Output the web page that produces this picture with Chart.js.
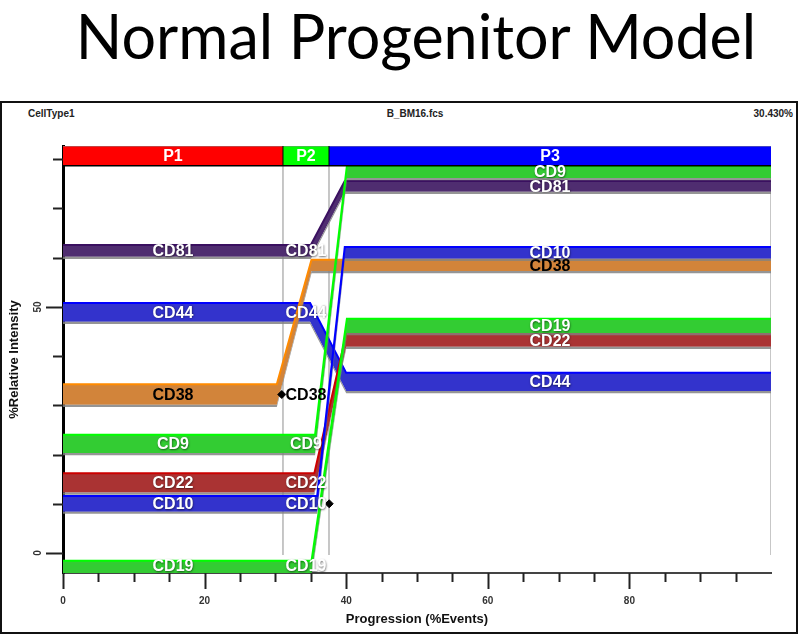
<!DOCTYPE html>
<html>
<head>
<meta charset="utf-8">
<title>Normal Progenitor Model</title>
<script src="https://cdn.jsdelivr.net/npm/chart.js@4.4.1/dist/chart.umd.min.js"></script>
<style>
  html, body { margin: 0; padding: 0; background: #fff; }
  #page { position: relative; width: 800px; height: 635px; overflow: hidden; }
  #title { position: absolute; left: 16px; top: 0; width: 800px; text-align: center;
           font-family: Lato, "Open Sans", sans-serif; font-size: 61px; line-height: 72px; color: #000; }
  #frame { position: absolute; left: 0; top: 101px; width: 794px; height: 529px; border: 2px solid #111; }
  .hdr { position: absolute; top: 108px; font: bold 10px "Liberation Sans", Arial, sans-serif; color: #222; }
  #chart { position: absolute; left: 0; top: 0; }
</style>
</head>
<body>
<div id="page">
  <div id="title">Normal Progenitor Model</div>
  <div id="frame"></div>
  <span class="hdr" style="left:28px">CellType1</span>
  <span class="hdr" style="left:365px;width:100px;text-align:center">B_BM16.fcs</span>
  <span class="hdr" style="right:7px">30.430%</span>
  <canvas id="chart" width="800" height="635"></canvas>
</div>
<script>
// фазы прогрессии
const phaseNames = ['P1', 'P2', 'P3'];
const phaseStart = [0, 31.07, 37.57];
const phaseEnd = [31.07, 37.57, 100];

// маркеры: границы полос до и после перехода
const markerNames = ['CD81', 'CD44', 'CD38', 'CD9', 'CD22', 'CD10', 'CD19'];
const riseStart   = [35.0, 34.9, 30.2, 35.6, 35.5, 35.9, 35.1];
const riseEnd     = [39.8, 40.0, 35.1, 40.1, 40.0, 39.8, 40.1];
const upperBefore = [62.6, 50.8, 34.3, 24.0, 16.2, 11.6, -1.6];
const lowerBefore = [60.2, 47.0, 30.1, 20.3, 12.3, 8.4, -4.5];
const upperAfter  = [75.6, 36.6, 59.6, 78.7, 44.5, 62.2, 47.6];
const lowerAfter  = [73.4, 32.9, 57.3, 76.2, 41.9, 59.8, 44.7];

// ромбики-метки
const diamondX = [30.9, 37.6];
const diamondY = [32.2, 10.0];

// оси
const xTickValues = [0, 5, 10, 15, 20, 25, 30, 35, 40, 45, 50, 55, 60, 65, 70, 75, 80, 85, 90, 95];
const yTickValues = [0, 10, 20, 30, 40, 50, 60, 70, 80];
const yMin = -4.07, yMax = 82.7;
const barLow = 78.7, barHigh = 82.7;   // полоса фаз
const guideBottom = -0.4;

// стили
const FONT = '"Liberation Sans", Arial, sans-serif';
const PHASE_COLORS = ['#ff0000', '#00ff00', '#0000ff'];
const BAND_STYLE = {
    CD81: { body: '#4f2d70', edge: '#3a1060', text: '#fff' },
    CD44: { body: '#3333cc', edge: '#0000ff', text: '#fff' },
    CD38: { body: '#d2843a', edge: '#ff8a00', text: '#000' },
    CD9:  { body: '#33cc33', edge: '#00ff00', text: '#fff' },
    CD22: { body: '#aa3333', edge: '#cc0000', text: '#fff' },
    CD10: { body: '#3333cc', edge: '#0000ff', text: '#fff' },
    CD19: { body: '#33cc33', edge: '#00ff00', text: '#fff' }
};
const SHADOW = 0.45;

const datasets = [];
const base = { type: 'line', pointRadius: 0, borderWidth: 0, tension: 0, fill: false };

// серые вертикальные линии границ фаз
[phaseEnd[0], phaseEnd[1], 100].forEach(x => {
    datasets.push({ ...base, data: [{ x, y: guideBottom }, { x, y: barLow }],
        borderColor: '#b4b4b4', borderWidth: 1.5, order: 100 });
});

// полосы маркеров: тень, нижний край, верхний край
markerNames.forEach((name, i) => {
    const st = BAND_STYLE[name];
    const xs = [0, riseStart[i], riseEnd[i], 100];
    const up = [upperBefore[i], upperBefore[i], upperAfter[i], upperAfter[i]];
    const lo = [lowerBefore[i], lowerBefore[i], lowerAfter[i], lowerAfter[i]];
    const pts = (ys, dy) => xs.map((x, k) => ({ x, y: ys[k] + dy }));
    datasets.push({ ...base, data: pts(lo, -SHADOW), order: 50 - i });
    datasets.push({ ...base, data: pts(lo, 0), fill: '-1', backgroundColor: 'rgba(130,130,130,0.85)', order: 50 - i });
    datasets.push({ ...base, data: pts(up, 0), fill: '-1', backgroundColor: st.body,
        borderColor: st.edge, borderWidth: 2, order: 50 - i });
});

// полоса фаз P1/P2/P3
phaseNames.forEach((p, i) => {
    datasets.push({ ...base, data: [{ x: phaseStart[i], y: barLow }, { x: phaseEnd[i], y: barLow }],
        borderColor: '#000', borderWidth: 1.5, order: 5 });
    datasets.push({ ...base, data: [{ x: phaseStart[i], y: barHigh }, { x: phaseEnd[i], y: barHigh }],
        fill: '-1', backgroundColor: PHASE_COLORS[i], borderColor: '#888', borderWidth: 1, order: 5 });
});
[phaseEnd[0], phaseEnd[1]].forEach(x => {
    datasets.push({ ...base, data: [{ x, y: barLow }, { x, y: barHigh }],
        borderColor: '#000', borderWidth: 1, order: 4 });
});

// ромбики
datasets.push({ type: 'scatter', data: diamondX.map((x, i) => ({ x, y: diamondY[i] })),
    pointStyle: 'rectRot', pointRadius: 4, backgroundColor: '#000', borderColor: '#000', order: 0 });

// подписи, засечки осей
const overlay = {
    id: 'overlay',
    afterDatasetsDraw(chart) {
        const { ctx, scales: { x, y } } = chart;
        ctx.save();
        ctx.textAlign = 'center';
        ctx.textBaseline = 'middle';

        // подписи фаз
        ctx.font = 'bold 16px ' + FONT;
        ctx.fillStyle = '#fff';
        const barMid = y.getPixelForValue((barLow + barHigh) / 2) + 1;
        phaseNames.forEach((p, i) => {
            ctx.fillText(p, x.getPixelForValue((phaseStart[i] + phaseEnd[i]) / 2), barMid);
        });

        // подписи маркеров в центрах фаз (белые - с лёгкой тенью)
        const c1 = x.getPixelForValue((phaseStart[0] + phaseEnd[0]) / 2);
        const c2 = x.getPixelForValue((phaseStart[1] + phaseEnd[1]) / 2);
        const c3 = x.getPixelForValue((phaseStart[2] + phaseEnd[2]) / 2);
        markerNames.forEach((name, i) => {
            const col = BAND_STYLE[name].text;
            ctx.fillStyle = col;
            ctx.shadowColor = col === '#fff' ? 'rgba(0,0,0,0.55)' : 'rgba(0,0,0,0)';
            ctx.shadowBlur = 2;
            ctx.shadowOffsetX = 0.5;
            ctx.shadowOffsetY = 0.5;
            const yb = y.getPixelForValue((upperBefore[i] + lowerBefore[i]) / 2) + 1;
            const ya = y.getPixelForValue((upperAfter[i] + lowerAfter[i]) / 2) + 1;
            const yLeft = Math.min(yb, chart.chartArea.bottom - 6);
            ctx.fillText(name, c1, yLeft);
            ctx.fillText(name, c2, yLeft);
            ctx.fillText(name, c3, ya);
        });
        ctx.shadowColor = 'rgba(0,0,0,0)';

        // засечки оси Y
        ctx.strokeStyle = '#222';
        ctx.lineWidth = 2;
        const left = chart.chartArea.left;
        yTickValues.forEach(v => {
            const py = Math.round(y.getPixelForValue(v)) + 0.5;
            const len = v % 50 === 0 ? 17 : 10;
            ctx.beginPath(); ctx.moveTo(left - len, py); ctx.lineTo(left, py); ctx.stroke();
        });
        // засечки оси X
        const bottom = chart.chartArea.bottom;
        xTickValues.forEach(v => {
            const px = Math.round(x.getPixelForValue(v)) + 0.5;
            const len = v % 20 === 0 ? 16 : 9;
            ctx.beginPath(); ctx.moveTo(px, bottom); ctx.lineTo(px, bottom + len); ctx.stroke();
        });

        // подписи оси Y (повернуты)
        ctx.font = 'bold 10px ' + FONT;
        ctx.fillStyle = '#333';
        yTickValues.filter(v => v % 50 === 0).forEach(v => {
            ctx.save();
            ctx.translate(38, y.getPixelForValue(v));
            ctx.rotate(-Math.PI / 2);
            ctx.fillText(String(v), 0, 0);
            ctx.restore();
        });
        ctx.restore();
    }
};

new Chart(document.getElementById('chart'), {
    type: 'line',
    data: { datasets },
    options: {
        responsive: false,
        animation: false,
        devicePixelRatio: 1,
        layout: { padding: { top: 146, right: 29, left: 0, bottom: 0 } },
        plugins: { legend: { display: false }, tooltip: { enabled: false } },
        scales: {
            x: {
                type: 'linear', min: 0, max: 100,
                afterBuildTicks: s => { s.ticks = xTickValues.map(v => ({ value: v })); },
                afterFit: s => { s.height = 62; },
                grid: { display: false },
                border: { display: true, color: '#444', width: 2 },
                ticks: { autoSkip: false, maxRotation: 0, padding: 14, color: '#333',
                         font: { family: FONT, size: 10, weight: 'bold' },
                         callback: v => (v % 20 === 0 ? String(v) : '') },
                title: { display: true, text: 'Progression (%Events)', color: '#111',
                         font: { family: FONT, size: 13, weight: 'bold' }, padding: { top: 0, bottom: 8 } }
            },
            y: {
                type: 'linear', min: yMin, max: yMax,
                afterBuildTicks: s => { s.ticks = yTickValues.map(v => ({ value: v })); },
                afterFit: s => { s.width = 63; },
                grid: { display: false },
                border: { display: true, color: '#000', width: 3 },
                ticks: { display: false },
                title: { display: true, text: '%Relative Intensity', color: '#111',
                         font: { family: FONT, size: 13, weight: 'bold' }, padding: { top: 7, bottom: 0 } }
            }
        }
    },
    plugins: [overlay]
});
</script>
</body>
</html>
